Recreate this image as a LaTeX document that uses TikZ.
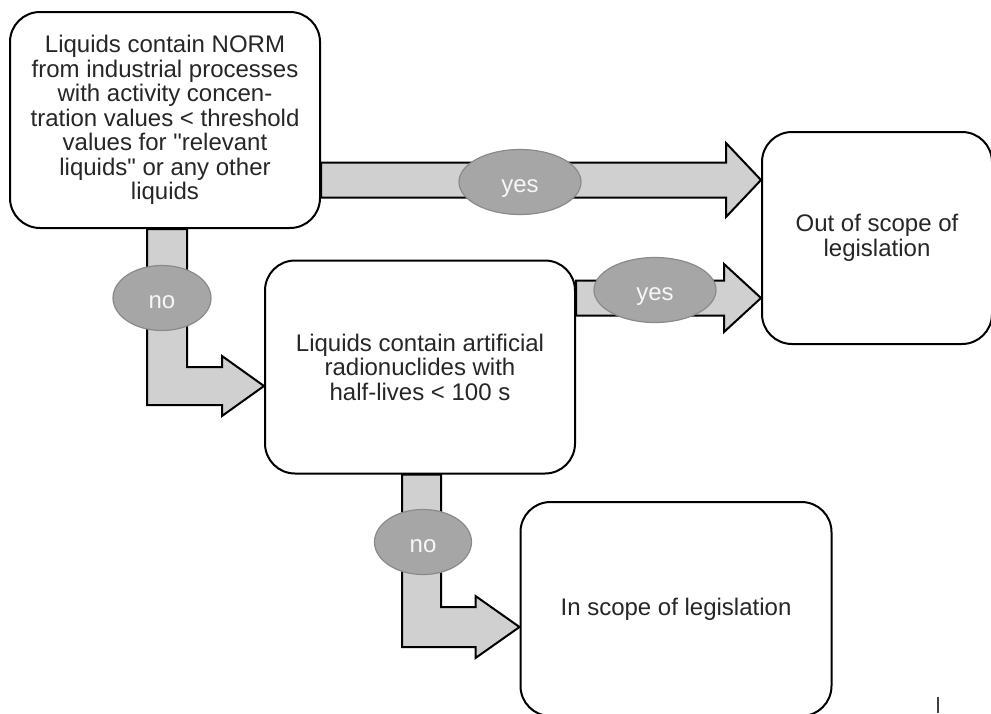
\documentclass[tikz,border=0pt]{standalone}
\usepackage{fontspec}
\setmainfont{Liberation Sans}
\usetikzlibrary{shapes.geometric}
\definecolor{shaftgray}{HTML}{D0D0D0}
\definecolor{ovalgray}{HTML}{A6A6A6}
\definecolor{ovalline}{HTML}{8A8A8A}
\definecolor{textgray}{HTML}{262626}
\tikzset{
  box/.style={draw,line width=2pt,rounded corners=30pt,fill=white,align=center,text=textgray,inner sep=0pt},
  fat/.style={draw,line width=2pt,fill=shaftgray,line join=miter},
  oval/.style={ellipse,draw=ovalline,line width=1.2pt,fill=ovalgray,text=white!94!gray,inner sep=0pt,minimum height=65pt,
    text height=20pt,text depth=0pt}
}
\begin{document}
\begin{tikzpicture}[x=1pt,y=-1pt,font=\fontsize{24}{24.5}\selectfont]
\useasboundingbox (0,0) rectangle (991,713);
  \node[box,minimum width=310pt,minimum height=216pt] (norm) at (165,120)
    {Liquids contain NORM\\from industrial processes\\with activity concen-\\tration values < threshold\\values for \textquotedbl relevant\\liquids\textquotedbl{} or any other\\liquids};
    \node[box,minimum width=230pt,minimum height=212pt] (out) at (877,238)
      {Out of scope of\\legislation};
      \node[box,minimum width=310pt,minimum height=213pt] (arte) at (420,367)
        {Liquids contain artificial\\radionuclides with\\half-lives < 100 s};
        \node[box,minimum width=311pt,minimum height=214pt] (insc) at (676,609)
          {In scope of legislation};

  \coordinate (t1) at (out.west |- 0,180);
  \coordinate (s1) at (norm.east |- t1);
  \coordinate (t2) at (out.west |- 0,298);
  \coordinate (s2) at (arte.east |- t2);
  \coordinate (n1) at (167,386);
  \coordinate (t3) at (arte.west |- n1);
  \coordinate (s3) at (n1 |- norm.south);
  \coordinate (n2) at (421.5,627);
  \coordinate (t4) at (insc.west |- n2);
  \coordinate (s4) at (n2 |- arte.south);

  \draw[fat] ([shift={(0,-17.5)}]s1) -- ([shift={(-35,-17.5)}]t1) -- ([shift={(-35,-37)}]t1) -- (t1)
     -- ([shift={(-35,37)}]t1) -- ([shift={(-35,17.5)}]t1) -- ([shift={(0,17.5)}]s1) -- cycle;
  \draw[fat] ([shift={(0,-17.5)}]s2) -- ([shift={(-37,-17.5)}]t2) -- ([shift={(-37,-34)}]t2) -- (t2)
     -- ([shift={(-37,34)}]t2) -- ([shift={(-37,17.5)}]t2) -- ([shift={(0,17.5)}]s2) -- cycle;
  \draw[fat] ([shift={(-20,0)}]s3) -- ([shift={(-20,19)}]n1) -- ([shift={(-42,19)}]t3) -- ([shift={(-42,30)}]t3) -- (t3)
     -- ([shift={(-42,-30)}]t3) -- ([shift={(-42,-19)}]t3) -- ([shift={(20,-19)}]n1) -- ([shift={(20,0)}]s3) -- cycle;
  \draw[fat] ([shift={(-19.5,0)}]s4) -- ([shift={(-19.5,20)}]n2) -- ([shift={(-44,20)}]t4) -- ([shift={(-44,31)}]t4) -- (t4)
     -- ([shift={(-44,-31)}]t4) -- ([shift={(-44,-20)}]t4) -- ([shift={(19.5,-20)}]n2) -- ([shift={(19.5,0)}]s4) -- cycle;

  \node[oval,minimum width=122pt] (yes1) at (520,182) {yes};
  \node[oval,minimum width=122pt] (yes2) at (655,290) {yes};
  \node[oval,minimum width=98pt] (no1) at (162,298) {no};
  \node[oval,minimum width=97pt] (no2) at (423,542) {no};

  \draw[line width=1.5pt,black!75] (938,697) -- (938,713);
\end{tikzpicture}
\end{document}
